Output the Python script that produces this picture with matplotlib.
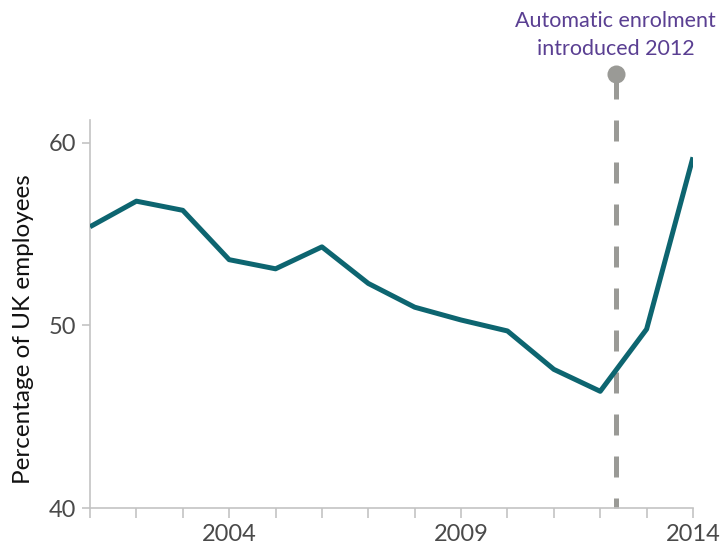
import matplotlib
matplotlib.use("Agg")
import matplotlib.pyplot as plt
from matplotlib.ticker import FixedLocator, NullFormatter

years = [2001, 2002, 2003, 2004, 2005, 2006, 2007, 2008, 2009, 2010, 2011, 2012, 2013, 2014]
share = [55.4, 56.8, 56.3, 53.6, 53.1, 54.3, 52.3, 51.0, 50.3, 49.7, 47.6, 46.4, 49.8, 59.2]
year_ticks = [2004, 2009, 2014]
y_ticks = [40, 50, 60]
event_year = 2012.33
event_label = "Automatic enrolment\nintroduced 2012"
y_label = "Percentage of UK employees"

W, H = 722, 547
fig = plt.figure(figsize=(W / 100, H / 100), dpi=100)
ax = fig.add_axes([90 / W, 1 - 508.3 / H, (693 - 90) / W, (508.3 - 120) / H])

FONT = "Lato"
axis_grey = "#c3c3c3"
line_col = "#0d6570"
dash_col = "#9a9a96"

ax.set_xlim(2001, 2014)
ax.set_ylim(40, 61.24)

# Event dashed line with marker on top
top_val = 60 + (142.7 - 74) / 18.28
ax.plot([event_year, event_year], [top_val - 4 / 18.28, 40], color=dash_col, lw=3.6,
        linestyle=(0, (4.2, 4.2)), dash_capstyle="butt", clip_on=False, zorder=2)
ax.plot([event_year], [top_val], marker="o", markersize=13, color=dash_col,
        markeredgewidth=0, clip_on=False, zorder=3)

ax.plot(years, share, color=line_col, lw=3.6, solid_joinstyle="round",
        solid_capstyle="butt", zorder=4)

ax.annotate(event_label, xy=(event_year, top_val), xytext=(0, 11), textcoords="offset points",
            ha="center", va="bottom", color="#5a3f92", fontsize=15.5, family=FONT,
            linespacing=1.45, annotation_clip=False)

for s in ["top", "right"]:
    ax.spines[s].set_visible(False)
for s in ["left", "bottom"]:
    ax.spines[s].set_color(axis_grey)
    ax.spines[s].set_linewidth(1.2)

ax.set_yticks(y_ticks)
ax.set_xticks(year_ticks)
ax.xaxis.set_minor_locator(FixedLocator(years))
ax.xaxis.set_minor_formatter(NullFormatter())
ax.tick_params(axis="y", length=6, width=1.2, color=axis_grey, labelsize=17,
               labelcolor="#4a4a4a", pad=4)
ax.tick_params(axis="x", which="both", length=7.5, width=1.2, color=axis_grey,
               labelsize=17, labelcolor="#4a4a4a", pad=4)
for lab in ax.get_xticklabels() + ax.get_yticklabels():
    lab.set_family(FONT)

ax.set_ylabel(y_label, fontsize=17.5, family=FONT, color="#111111")
ax.yaxis.set_label_coords(-(90 - 34) / 603, (508.3 - 329) / 388.3)

fig.savefig("out.png", dpi=100)
